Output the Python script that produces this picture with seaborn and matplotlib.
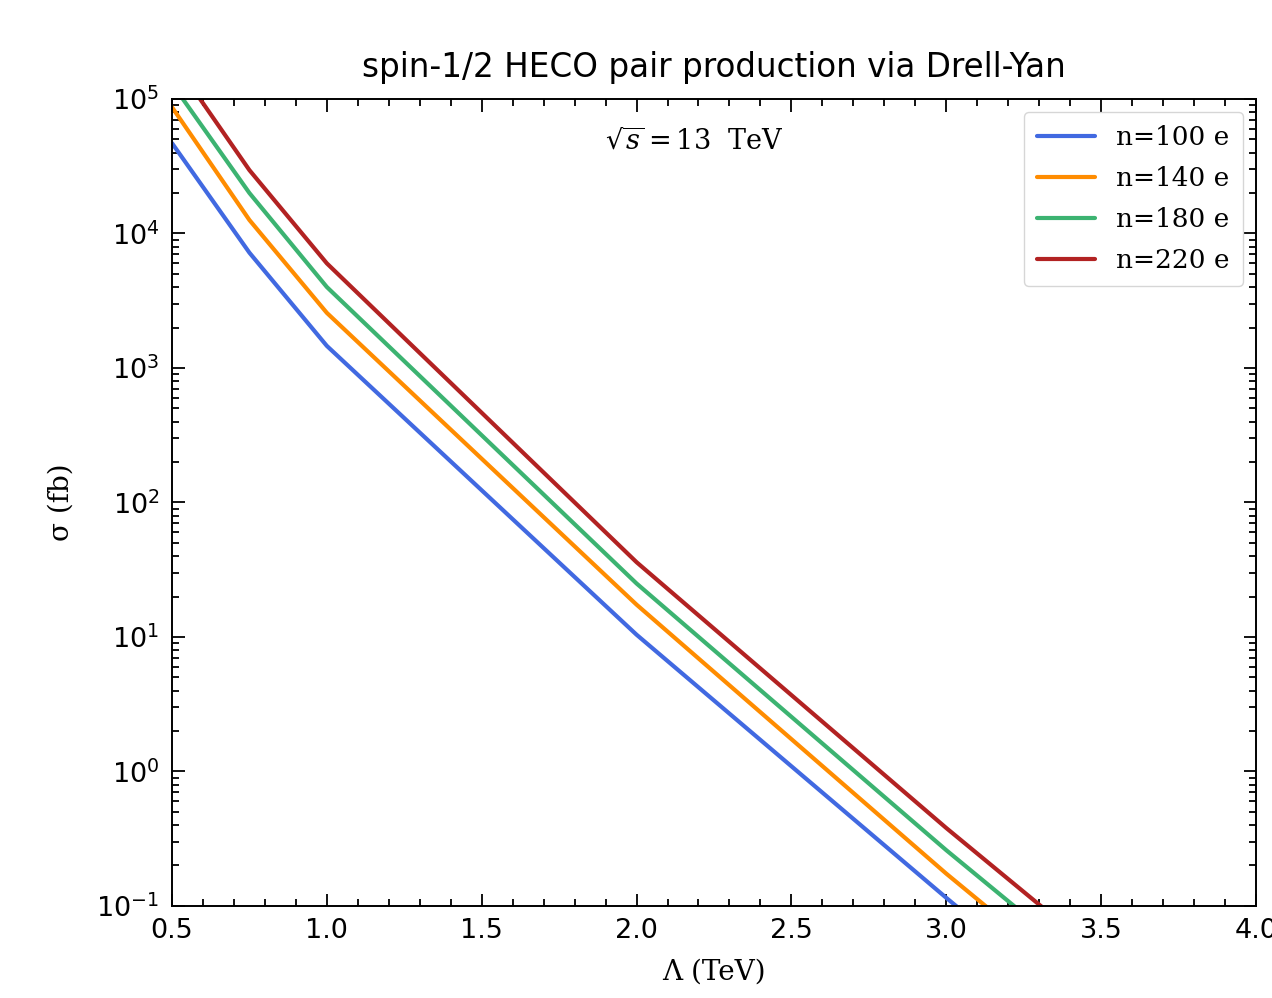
import matplotlib
matplotlib.use("Agg")

import numpy as np
import pandas as pd
import matplotlib.pyplot as plt
from matplotlib.ticker import MultipleLocator
import seaborn as sns

sns.set_theme(style="ticks")
plt.rcParams["font.family"] = ["DejaVu Sans"]
plt.rcParams["text.color"] = "black"
plt.rcParams["axes.labelcolor"] = "black"
plt.rcParams["xtick.color"] = "black"
plt.rcParams["ytick.color"] = "black"

# ---------- data ----------
lam_tev = [0.5, 0.75, 1.0, 2.0, 3.0, 4.0]
labels = ["n=100 e", "n=140 e", "n=180 e", "n=220 e"]
sigma_n100 = [4.7e4, 7.2e3, 1.46e3, 10.4, 0.115, 1.4e-3]
sigma_n140 = [8.7e4, 1.26e4, 2.57e3, 17.4, 0.174, 2.2e-3]
sigma_n180 = [1.3e5, 2.0e4, 4.0e3, 25.0, 0.26, 3.3e-3]
sigma_n220 = [2.0e5, 2.96e4, 6.0e3, 36.0, 0.38, 4.8e-3]
colors = ["royalblue", "darkorange", "mediumseagreen", "firebrick"]

frames = []
for lab, sig in zip(labels, [sigma_n100, sigma_n140, sigma_n180, sigma_n220]):
    frames.append(pd.DataFrame({"lam": lam_tev, "sigma": sig, "n": lab}))
df = pd.concat(frames, ignore_index=True)

fig = plt.figure(figsize=(12.72, 9.98), dpi=100)
ax = fig.add_axes([0.1352, 0.0922, 0.8522, 0.8086])

sns.lineplot(data=df, x="lam", y="sigma", hue="n", palette=colors,
             linewidth=3.0, ax=ax, sort=False)

ax.set_yscale("log")
ax.set_xlim(0.5, 4.0)
ax.set_ylim(1e-1, 1e5)
ax.xaxis.set_minor_locator(MultipleLocator(0.1))

ax.tick_params(which="both", direction="in", top=True, right=True,
               labelsize=19.5, width=1.3, color="black", labelcolor="black")
ax.tick_params(which="major", length=9, pad=9)
ax.tick_params(which="minor", length=5)
for sp in ax.spines.values():
    sp.set_linewidth(1.4)
    sp.set_color("black")

ax.set_title("spin-1/2 HECO pair production via Drell-Yan", fontsize=23.5,
             pad=16, color="black")
ax.set_xlabel("Λ (TeV)", family="DejaVu Serif", fontsize=20, labelpad=10)
ax.set_ylabel("σ (fb)", family="DejaVu Serif", fontsize=20, labelpad=16)

ax.text(0.482, 0.947, r"$\sqrt{s}=13\ \ \mathrm{TeV}$", transform=ax.transAxes,
        ha="center", va="center", fontsize=19.5, family="DejaVu Serif",
        math_fontfamily="dejavuserif")

leg = ax.legend(loc="upper right", prop={"family": "DejaVu Serif", "size": 19},
                frameon=True, handlelength=2.2, borderaxespad=0.5,
                labelspacing=0.6, handletextpad=0.8, borderpad=0.5)
leg.get_frame().set_edgecolor("#cccccc")
for t in leg.get_texts():
    t.set_color("black")

fig.savefig("out.png", dpi=100)
